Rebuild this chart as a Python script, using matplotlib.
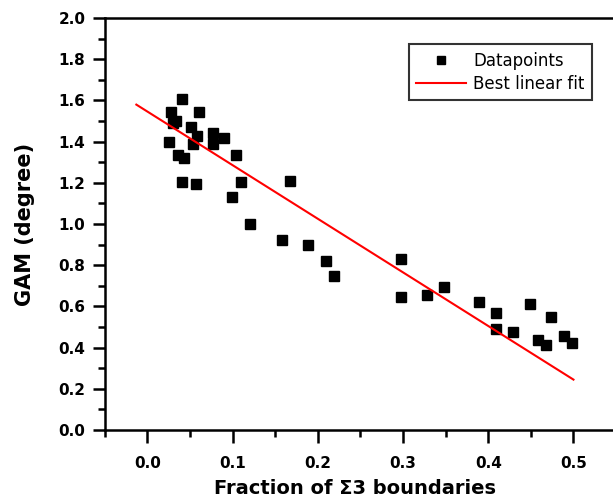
import numpy as np
import matplotlib.pyplot as plt
from matplotlib.ticker import MultipleLocator

#%% datos
frac_x = [0.041, 0.028, 0.060, 0.034, 0.030, 0.051, 0.058, 0.077, 0.090, 0.077,
          0.054, 0.025, 0.036, 0.043, 0.104, 0.041, 0.057, 0.110, 0.167, 0.099,
          0.120, 0.158, 0.188, 0.209, 0.219, 0.298, 0.298, 0.328, 0.348, 0.389,
          0.409, 0.409, 0.429, 0.449, 0.474, 0.458, 0.468, 0.489, 0.498]
gam_y = [1.605, 1.545, 1.545, 1.50, 1.49, 1.47, 1.43, 1.44, 1.42, 1.39,
         1.39, 1.40, 1.335, 1.32, 1.335, 1.205, 1.195, 1.205, 1.21, 1.13,
         1.00, 0.925, 0.898, 0.822, 0.748, 0.83, 0.644, 0.655, 0.696, 0.623,
         0.569, 0.489, 0.477, 0.611, 0.547, 0.437, 0.413, 0.456, 0.421]

# extremos de la recta de ajuste
fit_x = [-0.013, 0.500]
fit_y = [1.580, 0.245]

x_ticks = [0.0, 0.1, 0.2, 0.3, 0.4, 0.5]

#%% figura
fig = plt.figure(figsize=(6.13, 5.03), dpi=100)
ax = fig.add_axes([0.171, 0.145, 0.834, 0.819])

ax.plot(frac_x, gam_y, 's', color='black', markersize=7.5, label='Datapoints')
ax.plot(fit_x, fit_y, '-', color='red', linewidth=1.5, label='Best linear fit')

ax.set_xlim(-0.05, 0.55)
ax.set_ylim(0.0, 2.0)
ax.set_xticks(x_ticks)
ax.xaxis.set_minor_locator(MultipleLocator(0.05))
ax.yaxis.set_major_locator(MultipleLocator(0.2))
ax.yaxis.set_minor_locator(MultipleLocator(0.1))
ax.tick_params(which='major', direction='out', length=9, width=1.8, labelsize=11)
ax.tick_params(which='minor', direction='out', length=5, width=1.8)
ax.tick_params(axis='x', pad=10)
ax.tick_params(axis='y', pad=5)
for s in ax.spines.values():
    s.set_linewidth(1.8)

for lab in ax.get_xticklabels() + ax.get_yticklabels():
    lab.set_fontweight('bold')
    lab.set_fontfamily('DejaVu Sans')

ax.set_xlabel('Fraction of Σ3 boundaries', fontsize=14, fontweight='bold',
              family='DejaVu Sans')
ax.set_ylabel('GAM (degree)', fontsize=15, fontweight='bold',
              family='DejaVu Sans')
ax.xaxis.set_label_coords(0.49, -0.118)
ax.yaxis.set_label_coords(-0.137, 0.5)

leg = ax.legend(loc='upper right', bbox_to_anchor=(0.953, 0.937), borderaxespad=0,
                fancybox=False, edgecolor='black', fontsize=12, handlelength=3.0,
                borderpad=0.45, labelspacing=0.3, handletextpad=0.4, markerscale=0.8)
leg.get_frame().set_linewidth(1.5)

fig.savefig('out.png', dpi=100)
